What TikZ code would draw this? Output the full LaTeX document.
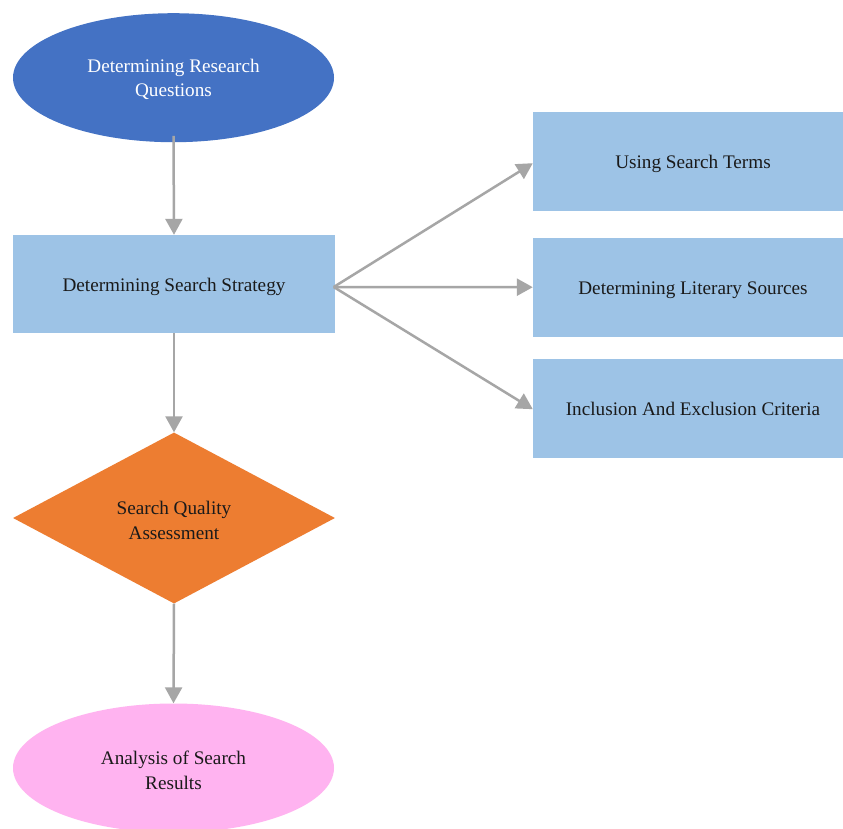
\documentclass[tikz,border=0pt]{standalone}
\usepackage{fontspec}
\setmainfont{Liberation Serif}
\usetikzlibrary{shapes.geometric,arrows.meta,calc}
\definecolor{cblue}{HTML}{4472C4}
\definecolor{clight}{HTML}{9DC3E6}
\definecolor{corange}{HTML}{ED7D31}
\definecolor{cpink}{HTML}{FFB3F0}
\definecolor{cgray}{HTML}{A6A6A6}
\definecolor{ctext}{HTML}{1A1A1A}
\begin{document}
\begin{tikzpicture}[x=1pt,y=-1pt,
  every node/.style={font=\fontsize{19.2}{24.5}\selectfont, inner sep=0pt, align=center, text=ctext},
  ell/.style={ellipse, minimum width=321pt, minimum height=129pt},
  one/.style={text height=16pt, text depth=2pt},
  box/.style={rectangle, fill=clight, minimum width=322pt, minimum height=98pt, one},
  rbox/.style={rectangle, fill=clight, minimum width=320pt, minimum height=99pt, one},
  dia/.style={diamond, aspect=1.9, fill=corange, minimum width=322pt, minimum height=171pt},
  arr/.style={draw=cgray, line width=2.5pt, -{Triangle[length=16pt,width=17pt]}}]
\useasboundingbox (0,0) rectangle (843,828);
\fill[white] (0,0) rectangle (843,828);
\clip (0,0) rectangle (843,828);

\node[ell, fill=cblue, text=white, text height=39pt, text depth=1pt] (q) at (173.5,77.7) {Determining Research\\Questions};
\node[box] (s) at (174,284) {Determining Search Strategy};
\node[rbox] (t1) at (693,161.2) {Using Search Terms};
\node[rbox] (t2) at (693,287.2) {Determining Literary Sources};
\node[rbox] (t3) at (693,408.2) {Inclusion And Exclusion Criteria};
\node[dia, text height=43pt, text depth=1pt] (d) at (174,518) {Search Quality\\Assessment};
\node[ell, fill=cpink, text height=43pt, text depth=1pt] (r) at (173.5,768) {Analysis of Search\\Results};

\draw[arr] ([yshift=6.5pt]q.south) -- (s.north);
\draw[arr] (s.south) -- (d.north);
\draw[arr] (d.south) -- (r.north);
\coordinate (o) at ([xshift=-1.5pt,yshift=-3pt]s.east);
\draw[arr] (o) -- ([yshift=-2pt]t1.west);
\draw[arr] (o) -- (t2.west);
\draw[arr] (o) -- ([yshift=-1pt]t3.west);
\end{tikzpicture}
\end{document}
